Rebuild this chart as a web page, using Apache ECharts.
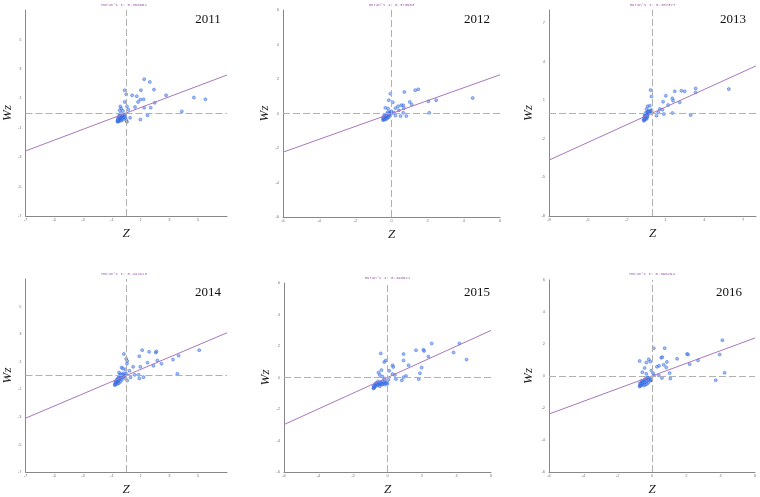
<!DOCTYPE html>
<html>
<head>
<meta charset="utf-8">
<script src="https://cdn.jsdelivr.net/npm/echarts@6/dist/echarts.min.js"></script>
<style>
html, body { margin: 0; padding: 0; background: #fff; }
#chart { width: 760px; height: 497px; }
</style>
</head>
<body>
<div id="chart"></div>
<script>
// years and Moran's I per panel
var years = ['2011', '2012', '2013', '2014', '2015', '2016'];
var moranI = [0.368952, 0.373953, 0.457377, 0.442823, 0.498022, 0.396294];
// half-range of the (symmetric) axes
var axisRange = [7, 6, 8, 7, 6, 6];
// tick labels
var ticks2011 = [-7, -5, -3, -1, 1, 3, 5];
var ticks2012 = [-6, -4, -2, 0, 2, 4, 6];
var ticks2013 = [-8, -5, -2, 1, 4, 7];
var ticks2014 = [-7, -5, -3, -1, 1, 3, 5];
var ticks2015 = [-6, -4, -2, 0, 2, 4, 6];
var ticks2016 = [-6, -4, -2, 0, 2, 4, 6];

// [z, Wz]
var pts2011 = [
  [-0.11,1.55],[0,1.27],[1.25,2.3],[1.64,2.11],[1.02,1.55],[1.93,1.59],[0.41,1.2],[0.73,1.14],
  [2.77,1.2],[1.2,0.93],[0.98,0.91],[0.82,0.75],[1.98,0.7],[1.7,0.36],[0.61,0.41],[1.25,0.36],
  [4.7,1.05],[5.5,0.93],[3.86,0.11],[1.48,-0.16],[0.98,-0.45],[0.27,-0.32],[-0.11,0.75],[-0.41,0.45],
  [-0.34,0.3],[0.05,0.45],[0.14,0.23],[-0.23,0.14],[-0.45,0.18],
  [-0.61,-0.6],[-0.58,-0.55],[-0.55,-0.5],[-0.52,-0.56],[-0.5,-0.45],[-0.48,-0.52],[-0.45,-0.4],
  [-0.43,-0.48],[-0.4,-0.35],[-0.38,-0.44],[-0.35,-0.3],[-0.33,-0.4],[-0.3,-0.25],[-0.28,-0.36],
  [-0.25,-0.2],[-0.22,-0.32],[-0.2,-0.15],[-0.15,-0.28],[-0.12,-0.1],[-0.08,-0.22],[-0.05,-0.35],
  [0,-0.5],[-0.55,-0.3],[-0.5,-0.2],[-0.45,-0.12],[-0.4,-0.05],[-0.58,-0.4],[-0.6,-0.48],
  [-0.35,-0.52],[-0.25,-0.45],[0.05,-0.6]
];
var pts2012 = [
  [-0.06,1.15],[0.71,1.25],[1.31,1.35],[1.48,1.4],[-0.15,0.77],[0.07,0.65],[4.49,0.9],[2.47,0.77],
  [2.04,0.71],[1.01,0.67],[1.12,0.52],[0.54,0.48],[0.65,0.48],[0.36,0.42],[0.22,0.31],[-0.34,0.33],
  [-0.19,0.29],[0.69,0.31],[0.41,0.19],[0.65,0.04],[2.09,0.04],[0.82,-0.15],[0.5,-0.15],[0.22,-0.12],
  [0.13,0.04],
  [-0.47,-0.38],[-0.45,-0.3],[-0.42,-0.35],[-0.4,-0.25],[-0.38,-0.32],[-0.35,-0.2],[-0.33,-0.28],
  [-0.3,-0.15],[-0.28,-0.25],[-0.25,-0.1],[-0.22,-0.2],[-0.2,-0.05],[-0.18,-0.15],[-0.15,0],
  [-0.12,-0.1],[-0.1,0.05],[-0.08,-0.05],[-0.05,0.1],[-0.02,0],[0,0.13],[-0.44,-0.2],[-0.4,-0.1],
  [-0.35,-0.35],[-0.3,-0.05],[-0.25,-0.3],[-0.2,0.08],[-0.46,-0.25],[-0.15,-0.22]
];
var pts2013 = [
  [-0.15,1.78],[-0.08,1.29],[1.03,1.34],[1.72,1.68],[2.23,1.73],[2.49,1.68],[3.33,1.91],[3.33,1.6],
  [5.9,1.86],[1.54,1.14],[1.59,0.96],[0.82,0.88],[2.1,0.83],[1.21,0.62],[0.56,0.31],[0.77,0.26],
  [0.44,0.05],[0.87,-0.08],[1.54,0],[2.95,-0.16],[0.31,-0.21],[-0.38,0.52],[-0.21,0.57],[-0.46,0.31],
  [-0.08,0.23],
  [-0.67,-0.6],[-0.65,-0.5],[-0.63,-0.55],[-0.6,-0.4],[-0.58,-0.48],[-0.55,-0.3],[-0.52,-0.42],
  [-0.5,-0.2],[-0.48,-0.35],[-0.45,-0.1],[-0.42,-0.25],[-0.4,0],[-0.38,-0.15],[-0.35,0.1],
  [-0.32,-0.05],[-0.3,0.18],[-0.25,0.05],[-0.2,0.12],[-0.15,0],[-0.1,0.15],[-0.05,0.05],
  [-0.62,-0.3],[-0.6,-0.2],[-0.55,-0.1],[-0.5,0.05],[-0.45,-0.45],[-0.4,-0.3],[-0.65,-0.42]
];
var pts2014 = [
  [-0.16,1.56],[0,1.21],[0.07,1.05],[0.05,0.86],[1.11,1.84],[1.59,1.72],[2.05,1.67],[2.1,1.74],
  [0.91,1.4],[5.07,1.84],[3.64,1.44],[3.25,1.16],[2.16,1.09],[2.45,0.86],[1.48,0.93],[1.89,0.7],
  [0.48,0.63],[0.98,0.63],[-0.32,0.58],[-0.23,0.51],[0.23,0.35],[-0.05,0.44],[-0.5,0.21],[3.55,0.12],
  [0.59,0.05],[0.86,0.05],[1.2,-0.12],[0.91,-0.21],[0.3,-0.14],[0.07,-0.37],
  [-0.8,-0.7],[-0.78,-0.6],[-0.75,-0.65],[-0.72,-0.5],[-0.7,-0.58],[-0.68,-0.4],[-0.65,-0.5],
  [-0.62,-0.3],[-0.6,-0.45],[-0.58,-0.2],[-0.55,-0.35],[-0.5,-0.1],[-0.48,-0.3],[-0.45,0],
  [-0.42,-0.2],[-0.4,0.1],[-0.35,-0.1],[-0.3,0.05],[-0.25,-0.15],[-0.2,0.16],[-0.15,-0.05],
  [-0.1,0.08],[-0.05,-0.2],[0,0.12],[-0.75,-0.45],[-0.7,-0.35],[-0.6,-0.6],[-0.52,-0.55],
  [-0.4,-0.45],[-0.3,-0.3]
];
var pts2015 = [
  [-0.39,1.53],[-0.1,1.08],[-0.19,0.98],[0.93,1.49],[0.93,1.08],[1.22,0.78],[0.29,0.78],[0.33,0.67],
  [1.65,1.73],[2.08,1.76],[2.12,1.69],[2.56,2.16],[2.37,1.33],[4.17,2.16],[3.83,1.59],[4.58,1.14],
  [1.98,0.63],[1.88,0.27],[1.81,-0.1],[1.07,0.1],[0.93,0.02],[0.83,-0.18],[0.43,0.16],[0.29,0.22],
  [0.49,-0.1],[0.1,0.43],[-0.35,0.47],[-0.52,0.31],[-0.45,0.16],[-0.29,0.06],[-0.19,-0.1],
  [0.06,-0.14],[-0.06,-0.35],[-0.39,-0.45],[-0.68,-0.39],
  [-0.82,-0.7],[-0.8,-0.62],[-0.78,-0.66],[-0.76,-0.55],[-0.74,-0.6],[-0.72,-0.5],[-0.7,-0.45],
  [-0.65,-0.52],[-0.6,-0.4],[-0.55,-0.48],[-0.5,-0.35],[-0.45,-0.42],[-0.4,-0.3],[-0.35,-0.38],
  [-0.3,-0.28],[-0.25,-0.4],[-0.2,-0.3],[-0.15,-0.45],[-0.1,-0.35],[-0.05,-0.25],[0,-0.4],
  [-0.8,-0.5],[-0.65,-0.35],[-0.55,-0.25],[-0.45,-0.55],[-0.3,-0.45]
];
var pts2016 = [
  [0.1,1.74],[0.74,1.74],[0.54,1.14],[0.6,1.18],[1.46,1.08],[2.04,1.38],[2.1,1.34],[2.19,0.74],
  [2.68,0.98],[4.1,2.24],[3.94,1.34],[4.23,0.2],[3.71,-0.26],[-0.72,0.94],[-0.19,1.04],[-0.1,0.9],
  [-0.33,0.84],[-0.43,0.5],[0.29,0.58],[0.41,0.64],[0.87,0.88],[0.68,0.7],[0.83,0.54],[1.03,0.18],
  [1.07,-0.16],[0.58,-0.12],[0.39,0.04],[0.1,0.04],[0.06,0.18],[-0.04,0.34],[-0.56,0.24],
  [-0.33,0.14],[-0.23,-0.1],[-0.04,-0.26],[-0.23,-0.42],
  [-0.72,-0.66],[-0.7,-0.58],[-0.68,-0.62],[-0.65,-0.5],[-0.62,-0.56],[-0.6,-0.42],[-0.58,-0.5],
  [-0.55,-0.35],[-0.52,-0.45],[-0.5,-0.28],[-0.45,-0.4],[-0.42,-0.22],[-0.38,-0.35],[-0.35,-0.15],
  [-0.3,-0.3],[-0.25,-0.1],[-0.2,-0.25],[-0.15,-0.15],[-0.1,-0.3],[-0.05,-0.2],[-0.7,-0.45],
  [-0.6,-0.3],[-0.48,-0.6],[-0.4,-0.55],[-0.3,-0.5]
];

var allPts = [pts2011, pts2012, pts2013, pts2014, pts2015, pts2016];
var allTicks = [ticks2011, ticks2012, ticks2013, ticks2014, ticks2015, ticks2016];

// panel layout (pixels)
var boxes = [
  { left: 21, top: 10, width: 206, height: 206, yGap: 7, titleY: 5, yearX: 208, yearY: 20 },
  { left: 283, top: 10, width: 217, height: 207, yGap: 10, titleY: 5, yearX: 477, yearY: 20 },
  { left: 549, top: 10, width: 207, height: 206, yGap: 14, titleY: 5, yearX: 733, yearY: 20 },
  { left: 21, top: 279, width: 206, height: 199, yGap: 10, titleY: 274, yearX: 208, yearY: 293 },
  { left: 284, top: 283, width: 207, height: 196, yGap: 9, titleY: 278, yearX: 477, yearY: 293 },
  { left: 549, top: 280, width: 206, height: 199, yGap: 14, titleY: 274, yearX: 729, yearY: 293 }
];

var chart = echarts.init(document.getElementById('chart'));
var grids = [], xAxes = [], yAxes = [], series = [], graphics = [];
var nameStyle = { fontFamily: 'Liberation Serif', fontStyle: 'italic', fontSize: 13, color: '#222' };
var lblStyle = { fontSize: 4, color: '#777', fontFamily: 'Liberation Sans' };

years.forEach(function (yr, i) {
  var b = boxes[i];
  var r = axisRange[i];
  grids.push({ left: b.left, top: b.top, width: b.width, height: b.height });
  xAxes.push({
    type: 'value', gridIndex: i, min: -r, max: r,
    name: 'Z', nameLocation: 'middle', nameGap: 11, nameTextStyle: nameStyle,
    axisLine: { onZero: false, lineStyle: { color: '#888', width: 1 } },
    axisTick: { show: false },
    splitLine: { show: false },
    axisLabel: Object.assign({ customValues: allTicks[i], margin: 2 }, lblStyle)
  });
  yAxes.push({
    type: 'value', gridIndex: i, min: -r, max: r,
    name: 'Wz', nameLocation: 'middle', nameGap: b.yGap, nameTextStyle: nameStyle,
    axisLine: { onZero: false, lineStyle: { color: '#888', width: 1 } },
    axisTick: { show: false },
    splitLine: { show: false },
    axisLabel: Object.assign({ customValues: allTicks[i], margin: 4 }, lblStyle)
  });
  series.push({
    type: 'scatter', xAxisIndex: i, yAxisIndex: i,
    data: allPts[i], symbol: 'circle', symbolSize: 3,
    itemStyle: { color: 'rgba(90,140,240,0.7)', borderColor: '#2f62dc', borderWidth: 0.6 },
    markLine: {
      silent: true, symbol: 'none', label: { show: false },
      lineStyle: { type: [7, 3], color: '#b0b0b0', width: 1 },
      data: [{ xAxis: 0 }, { yAxis: 0 }]
    },
    z: 3
  });
  // regression line of Wz on z, slope = Moran's I
  series.push({
    type: 'line', xAxisIndex: i, yAxisIndex: i,
    data: [[-r, -r * moranI[i]], [r, r * moranI[i]]],
    showSymbol: false, silent: true,
    lineStyle: { color: '#a977bd', width: 1 },
    z: 4
  });
  graphics.push({
    type: 'text', x: b.left + b.width / 2, y: b.titleY,
    style: {
      text: "Moran's I: " + moranI[i].toFixed(6),
      fill: '#9a5aa8', fontSize: 4, fontFamily: 'Liberation Mono',
      align: 'center', verticalAlign: 'middle'
    }
  });
  graphics.push({
    type: 'text', x: b.yearX, y: b.yearY,
    style: {
      text: yr, fill: '#111', fontSize: 13, fontFamily: 'Liberation Serif',
      align: 'center', verticalAlign: 'middle'
    }
  });
});

chart.setOption({
  animation: false,
  backgroundColor: '#fff',
  grid: grids,
  xAxis: xAxes,
  yAxis: yAxes,
  series: series,
  graphic: graphics
});
</script>
</body>
</html>
